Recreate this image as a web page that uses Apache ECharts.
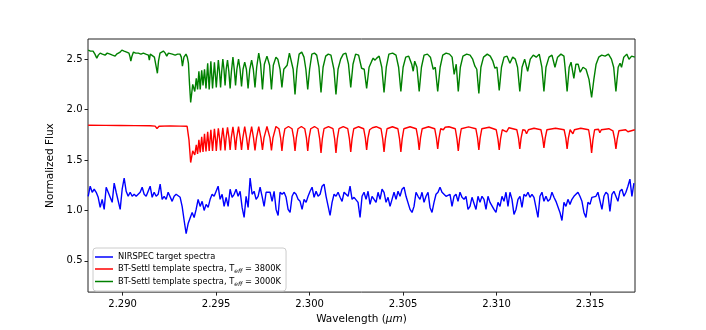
<!DOCTYPE html>
<html>
<head>
<meta charset="utf-8">
<script src="https://cdn.jsdelivr.net/npm/echarts@6.0.0/dist/echarts.min.js"></script>
<style>
  html, body { margin: 0; padding: 0; background: #fff; }
  #chart { width: 706px; height: 330px; }
</style>
</head>
<body>
<div id="chart"></div>
<script>
// axis ranges and ticks
const xMin = 2.28815
const xMax = 2.3174
const yMin = 0.19
const yMax = 2.70
const xTicks = [2.290, 2.295, 2.300, 2.305, 2.310, 2.315]
const yTicks = [0.5, 1.0, 1.5, 2.0, 2.5]

const seriesNames = [
  'NIRSPEC target spectra',
  'BT-Settl template spectra, T_eff = 3800K',
  'BT-Settl template spectra, T_eff = 3000K',
]

// NIRSPEC spectrum, sampled on a regular wavelength grid
const blueStart = 2.28816
const blueStep = 0.000106894
const blueFlux = [
  1.14, 1.24, 1.18, 1.21, 1.18, 1.13, 1.03, 1.11, 1.01, 1.23, 1.18, 1.18, 1.08, 1.27, 1.18, 1.17, 1.01, 1.21, 1.32, 1.19, 1.14, 1.18,
  1.14, 1.16, 1.14, 1.14, 1.18, 1.23, 1.16, 1.14, 1.19, 1.24, 1.13, 1.18, 1.14, 1.16, 1.26, 1.11, 1.14, 1.11, 1.18, 1.18, 1.09, 1.14, 1.16, 1.16,
  1.13, 1.04, 0.90, 0.77, 0.87, 0.88, 0.98, 0.93, 1.01, 1.11, 1.04, 1.09, 1.00, 1.06, 1.03, 1.11, 1.16, 1.14, 1.19, 1.24, 1.11, 1.16, 1.04, 1.13,
  1.04, 1.21, 1.13, 1.16, 1.21, 1.14, 1.19, 1.03, 0.93, 1.14, 1.03, 1.32, 1.16, 1.19, 1.11, 1.14, 1.23, 1.14, 1.04, 1.18, 1.19, 1.18, 1.09, 1.19,
  1.01, 0.95, 1.18, 1.16, 1.18, 1.13, 1.01, 0.98, 1.14, 1.18, 1.16, 1.11, 1.09, 1.01, 1.11, 1.08, 1.14, 1.19, 1.23, 1.13, 1.19, 1.14, 1.16, 1.24,
  1.26, 1.14, 1.13, 0.95, 1.08, 1.16, 1.14, 1.18, 1.13, 1.09, 1.18, 1.19, 1.14, 1.24, 1.11, 1.13, 1.14, 1.08, 0.93, 1.14, 1.18, 1.11, 1.19, 1.06,
  1.14, 1.11, 1.08, 1.18, 1.11, 1.21, 1.18, 1.08, 1.13, 1.04, 1.11, 1.18, 1.11, 1.19, 1.14, 1.21, 1.23, 1.14, 1.13, 1.01, 0.98, 1.04, 1.18, 1.14,
  1.11, 1.18, 1.08, 1.14, 1.18, 1.03, 0.98, 1.08, 1.16, 1.18, 1.23, 1.18, 1.19, 1.14, 1.13, 1.16, 1.04, 1.14, 1.16, 1.09, 1.18, 1.13, 1.11, 1.14,
  1.01, 1.04, 1.13, 1.14, 1.01, 1.14, 1.08, 1.14, 1.11, 1.01, 1.14, 1.08, 1.09, 1.01, 0.98, 1.08, 1.04, 1.14, 1.09, 1.18, 1.04, 1.18, 1.11, 0.96,
  1.01, 1.11, 1.14, 1.03, 1.16, 1.14, 1.18, 1.13, 1.16, 1.13, 1.13, 0.93, 1.14, 1.18, 1.09, 1.14, 1.09, 1.11, 1.18, 1.13, 1.09, 1.08, 0.98, 0.90,
  1.08, 1.04, 1.11, 1.06, 1.11, 1.14, 1.13, 1.18, 1.14, 1.09, 0.98, 0.93, 1.08, 1.06, 1.13, 1.13, 1.14, 1.18, 1.19, 1.01, 1.14, 1.18, 1.16, 0.99,
  1.16, 1.19, 1.18, 1.09, 1.19, 1.21, 1.14, 1.18, 1.24, 1.31, 1.14, 1.27,
]

// Teff = 3800K template, [wavelength, flux]
const redSpec = [
  [2.28816, 1.845], [2.28906, 1.843], [2.28987, 1.842], [2.29067, 1.841], [2.29147, 1.839], [2.29174, 1.836], [2.29184, 1.812], [2.29195, 1.835],
  [2.29254, 1.838], [2.29307, 1.836], [2.29345, 1.834], [2.29355, 1.70],
  [2.29364, 1.475], [2.29375, 1.59], [2.29386, 1.55], [2.29394, 1.65], [2.29401, 1.56], [2.29408, 1.70], [2.29415, 1.575], [2.29423, 1.73],
  [2.29430, 1.58], [2.29438, 1.76], [2.29446, 1.585], [2.29455, 1.78], [2.29463, 1.59], [2.29472, 1.80], [2.29481, 1.59], [2.29491, 1.81],
  [2.29497, 1.70], [2.29501, 1.59], [2.29506, 1.70], [2.29512, 1.815],
  [2.29519, 1.71], [2.29524, 1.595], [2.29529, 1.71], [2.29536, 1.82],
  [2.29543, 1.71], [2.29548, 1.595], [2.29553, 1.71], [2.29561, 1.825],
  [2.29569, 1.72], [2.29575, 1.60], [2.29581, 1.72], [2.29590, 1.828],
  [2.29598, 1.72], [2.29604, 1.60], [2.29610, 1.72], [2.29620, 1.83],
  [2.29629, 1.72], [2.29636, 1.60], [2.29643, 1.72], [2.29653, 1.83],
  [2.29663, 1.72], [2.29671, 1.60], [2.29679, 1.72], [2.29690, 1.83],
  [2.29700, 1.72], [2.29708, 1.595], [2.29716, 1.72], [2.29728, 1.832],
  [2.29740, 1.72], [2.29748, 1.60], [2.29756, 1.72], [2.29772, 1.832],
  [2.29788, 1.72], [2.29796, 1.595], [2.29804, 1.72], [2.29820, 1.832],
  [2.29836, 1.81], [2.29845, 1.72], [2.29852, 1.59], [2.29859, 1.72], [2.29868, 1.81], [2.29887, 1.832],
  [2.29906, 1.81], [2.29915, 1.72], [2.29922, 1.59], [2.29929, 1.72], [2.29938, 1.81], [2.29956, 1.832],
  [2.29974, 1.81], [2.29983, 1.72], [2.29990, 1.59], [2.29997, 1.72], [2.30006, 1.81], [2.30026, 1.832],
  [2.30045, 1.81], [2.30054, 1.71], [2.30061, 1.57], [2.30068, 1.71], [2.30077, 1.81], [2.30101, 1.832],
  [2.30125, 1.81], [2.30134, 1.71], [2.30141, 1.57], [2.30148, 1.71], [2.30157, 1.81], [2.30180, 1.832],
  [2.30204, 1.81], [2.30213, 1.71], [2.30220, 1.58], [2.30227, 1.71], [2.30236, 1.81], [2.30262, 1.83],
  [2.30289, 1.81], [2.30298, 1.72], [2.30305, 1.60], [2.30312, 1.72], [2.30321, 1.80], [2.30336, 1.82], [2.30346, 1.81], [2.30356, 1.83],
  [2.30382, 1.81], [2.30391, 1.71], [2.30398, 1.58], [2.30405, 1.71], [2.30414, 1.81], [2.30443, 1.83],
  [2.30472, 1.81], [2.30481, 1.71], [2.30488, 1.58], [2.30495, 1.71], [2.30504, 1.81], [2.30537, 1.83],
  [2.30570, 1.81], [2.30579, 1.72], [2.30586, 1.60], [2.30593, 1.72], [2.30602, 1.81], [2.30636, 1.83],
  [2.30669, 1.81], [2.30678, 1.72], [2.30685, 1.61], [2.30692, 1.72], [2.30701, 1.81], [2.30715, 1.80], [2.30725, 1.825], [2.30745, 1.83],
  [2.30779, 1.81], [2.30788, 1.71], [2.30795, 1.59], [2.30802, 1.71], [2.30811, 1.81], [2.30850, 1.828],
  [2.30889, 1.81], [2.30898, 1.72], [2.30905, 1.60], [2.30912, 1.72], [2.30921, 1.81], [2.30960, 1.825],
  [2.30998, 1.80], [2.31007, 1.71], [2.31014, 1.60], [2.31021, 1.71], [2.31030, 1.80], [2.31053, 1.78], [2.31066, 1.82],
  [2.31108, 1.80], [2.31117, 1.72], [2.31124, 1.61], [2.31131, 1.72], [2.31140, 1.80], [2.31152, 1.795], [2.31160, 1.76], [2.31170, 1.80], [2.31200, 1.815],
  [2.31237, 1.80], [2.31246, 1.72], [2.31253, 1.62], [2.31260, 1.72], [2.31269, 1.80], [2.31315, 1.815],
  [2.31361, 1.80], [2.31370, 1.72], [2.31377, 1.61], [2.31384, 1.72], [2.31393, 1.80], [2.31402, 1.79], [2.31408, 1.76], [2.31416, 1.80], [2.31450, 1.815],
  [2.31492, 1.80], [2.31501, 1.70], [2.31508, 1.57], [2.31515, 1.70], [2.31524, 1.80], [2.31545, 1.805], [2.31552, 1.77], [2.31560, 1.80], [2.31600, 1.81],
  [2.31622, 1.79], [2.31631, 1.71], [2.31638, 1.61], [2.31645, 1.71], [2.31654, 1.79], [2.31690, 1.80], [2.31702, 1.78], [2.31712, 1.795], [2.31739, 1.80],
]

// Teff = 3000K template, [wavelength, flux]
const greenSpec = [
  [2.28816, 2.59], [2.28828, 2.58], [2.28842, 2.58], [2.28852, 2.55], [2.28862, 2.51], [2.28870, 2.54], [2.28880, 2.56], [2.28892, 2.55],
  [2.28906, 2.54], [2.28918, 2.56], [2.28933, 2.55], [2.28946, 2.54], [2.28960, 2.53], [2.28968, 2.55], [2.28978, 2.56], [2.28987, 2.57],
  [2.28996, 2.59], [2.29008, 2.58], [2.29022, 2.57], [2.29034, 2.56], [2.29040, 2.52], [2.29044, 2.48], [2.29050, 2.53], [2.29058, 2.57],
  [2.29070, 2.56], [2.29084, 2.56], [2.29098, 2.55], [2.29111, 2.56], [2.29124, 2.55], [2.29138, 2.54], [2.29143, 2.49], [2.29148, 2.55],
  [2.29156, 2.56], [2.29170, 2.52], [2.29180, 2.42], [2.29186, 2.36], [2.29192, 2.48], [2.29200, 2.56], [2.29210, 2.57], [2.29218, 2.58],
  [2.29228, 2.56], [2.29236, 2.53], [2.29245, 2.56], [2.29254, 2.57], [2.29266, 2.55], [2.29281, 2.54], [2.29294, 2.55], [2.29307, 2.55],
  [2.29314, 2.52], [2.29320, 2.43], [2.29328, 2.52], [2.29339, 2.55], [2.29346, 2.52], [2.29352, 2.46], [2.29358, 2.25],
  [2.29364, 2.07], [2.29375, 2.25], [2.29386, 2.18], [2.29394, 2.31], [2.29401, 2.20], [2.29408, 2.38], [2.29415, 2.20], [2.29423, 2.39],
  [2.29430, 2.24], [2.29438, 2.40], [2.29446, 2.21], [2.29455, 2.46], [2.29463, 2.20], [2.29472, 2.48], [2.29481, 2.21], [2.29491, 2.47],
  [2.29501, 2.22], [2.29512, 2.49], [2.29518, 2.38], [2.29524, 2.22], [2.29530, 2.38], [2.29536, 2.50], [2.29542, 2.40], [2.29548, 2.24],
  [2.29554, 2.40], [2.29561, 2.49], [2.29568, 2.38], [2.29575, 2.21], [2.29582, 2.38], [2.29590, 2.52], [2.29597, 2.40], [2.29604, 2.24],
  [2.29611, 2.40], [2.29620, 2.50], [2.29628, 2.40], [2.29636, 2.23], [2.29644, 2.40], [2.29653, 2.47], [2.29662, 2.40], [2.29671, 2.21],
  [2.29680, 2.40], [2.29690, 2.49], [2.29699, 2.40], [2.29708, 2.22], [2.29717, 2.42], [2.29728, 2.56], [2.29738, 2.45], [2.29748, 2.20],
  [2.29758, 2.45], [2.29772, 2.53], [2.29786, 2.44], [2.29796, 2.20], [2.29806, 2.44], [2.29820, 2.52], [2.29830, 2.50], [2.29842, 2.40],
  [2.29852, 2.22], [2.29862, 2.40], [2.29880, 2.44], [2.29892, 2.56], [2.29900, 2.55], [2.29912, 2.40], [2.29922, 2.15], [2.29932, 2.40],
  [2.29944, 2.55], [2.29958, 2.57], [2.29970, 2.52], [2.29980, 2.40], [2.29990, 2.20], [2.30000, 2.40], [2.30012, 2.55], [2.30026, 2.56],
  [2.30038, 2.54], [2.30050, 2.42], [2.30061, 2.17], [2.30072, 2.42], [2.30086, 2.53], [2.30100, 2.55], [2.30114, 2.54], [2.30130, 2.40],
  [2.30141, 2.15], [2.30152, 2.40], [2.30166, 2.50], [2.30180, 2.55], [2.30194, 2.56], [2.30208, 2.45], [2.30220, 2.22], [2.30232, 2.45],
  [2.30246, 2.55], [2.30262, 2.54], [2.30278, 2.41], [2.30292, 2.40], [2.30305, 2.21], [2.30318, 2.42], [2.30332, 2.48], [2.30340, 2.51],
  [2.30350, 2.49], [2.30359, 2.51], [2.30372, 2.53], [2.30386, 2.42], [2.30398, 2.17], [2.30410, 2.42], [2.30424, 2.55], [2.30444, 2.56],
  [2.30462, 2.54], [2.30476, 2.42], [2.30488, 2.18], [2.30500, 2.42], [2.30514, 2.52], [2.30530, 2.53], [2.30546, 2.45], [2.30554, 2.38],
  [2.30562, 2.48], [2.30574, 2.42], [2.30586, 2.18], [2.30598, 2.42], [2.30612, 2.54], [2.30630, 2.55], [2.30646, 2.52], [2.30661, 2.40],
  [2.30672, 2.42], [2.30685, 2.18], [2.30698, 2.42], [2.30712, 2.54], [2.30730, 2.56], [2.30748, 2.55], [2.30762, 2.52], [2.30773, 2.35],
  [2.30784, 2.45], [2.30795, 2.18], [2.30806, 2.42], [2.30820, 2.53], [2.30840, 2.55], [2.30858, 2.54], [2.30872, 2.50], [2.30884, 2.43],
  [2.30894, 2.40], [2.30905, 2.16], [2.30916, 2.42], [2.30930, 2.52], [2.30950, 2.55], [2.30966, 2.53], [2.30980, 2.48], [2.30991, 2.41],
  [2.31002, 2.42], [2.31014, 2.19], [2.31026, 2.42], [2.31040, 2.52], [2.31056, 2.53], [2.31071, 2.46], [2.31086, 2.52], [2.31100, 2.50],
  [2.31112, 2.42], [2.31124, 2.18], [2.31136, 2.42], [2.31150, 2.50], [2.31166, 2.38], [2.31180, 2.50], [2.31196, 2.54], [2.31212, 2.52],
  [2.31228, 2.55], [2.31242, 2.42], [2.31253, 2.18], [2.31264, 2.42], [2.31280, 2.52], [2.31296, 2.54], [2.31312, 2.42], [2.31326, 2.52],
  [2.31344, 2.55], [2.31360, 2.53], [2.31366, 2.42], [2.31377, 2.18], [2.31388, 2.42], [2.31398, 2.47], [2.31413, 2.31], [2.31424, 2.45],
  [2.31436, 2.45], [2.31447, 2.37], [2.31462, 2.42], [2.31478, 2.40], [2.31494, 2.30], [2.31508, 2.12], [2.31520, 2.30], [2.31532, 2.45],
  [2.31546, 2.52], [2.31562, 2.54], [2.31580, 2.53], [2.31598, 2.55], [2.31614, 2.50], [2.31626, 2.42], [2.31638, 2.18], [2.31650, 2.42],
  [2.31660, 2.46], [2.31668, 2.42], [2.31680, 2.52], [2.31696, 2.55], [2.31708, 2.50], [2.31722, 2.53], [2.31739, 2.52],
]

const blueSpec = blueFlux.map((f, i) => [blueStart + i * blueStep, f])

const font = 'DejaVu Sans'
const chart = echarts.init(document.getElementById('chart'))

function lineSeries(name, data, color) {
  return {
    name: name,
    type: 'line',
    data: data,
    symbol: 'none',
    sampling: 'none',
    clip: true,
    lineStyle: { color: color, width: 1.4 },
    itemStyle: { color: color },
  }
}

const option = {
  animation: false,
  textStyle: { fontFamily: font },
  grid: {
    left: 88,
    right: 71,
    top: 39,
    bottom: 37,
    show: true,
    borderColor: '#222',
    borderWidth: 1,
  },
  legend: {
    orient: 'vertical',
    left: 93,
    top: 248,
    padding: [4, 5, 4, 2],
    itemGap: 1.5,
    itemWidth: 18,
    itemHeight: 1.5,
    icon: 'rect',
    borderColor: '#ccc',
    borderWidth: 1,
    borderRadius: 3,
    backgroundColor: 'rgba(255,255,255,0.8)',
    data: seriesNames,
    formatter: name => name.replace('T_eff', 'T{sub|eff}'),
    textStyle: {
      fontFamily: font,
      fontSize: 8.3,
      lineHeight: 10,
      color: '#000',
      rich: {
        sub: { fontFamily: font, fontSize: 6, fontStyle: 'italic', lineHeight: 10, padding: [5, 0, 0, 0], color: '#000' },
      },
    },
  },
  xAxis: {
    type: 'value',
    min: xMin,
    max: xMax,
    axisLine: { show: false },
    axisTick: { show: true, length: 3.5, customValues: xTicks, lineStyle: { color: '#222', width: 1 } },
    axisLabel: { customValues: xTicks, formatter: v => v.toFixed(3), color: '#000', fontSize: 10, margin: 7 },
    splitLine: { show: false },
    name: 'Wavelength ({it|μm})',
    nameLocation: 'middle',
    nameGap: 19,
    nameTextStyle: {
      fontFamily: font,
      fontSize: 10.5,
      color: '#000',
      rich: { it: { fontFamily: font, fontSize: 10.5, fontStyle: 'italic', color: '#000' } },
    },
  },
  yAxis: {
    type: 'value',
    min: yMin,
    max: yMax,
    axisLine: { show: false },
    axisTick: { show: true, length: 3.5, customValues: yTicks, lineStyle: { color: '#222', width: 1 } },
    axisLabel: { customValues: yTicks, formatter: v => v.toFixed(1), color: '#000', fontSize: 10, margin: 5.5 },
    splitLine: { show: false },
    name: 'Normalized Flux',
    nameLocation: 'middle',
    nameRotate: 90,
    nameGap: 23,
    nameTextStyle: { fontFamily: font, fontSize: 10.5, color: '#000' },
  },
  series: [
    lineSeries(seriesNames[0], blueSpec, '#0000ff'),
    lineSeries(seriesNames[1], redSpec, '#ff0000'),
    lineSeries(seriesNames[2], greenSpec, '#008000'),
  ],
}

chart.setOption(option)
</script>
</body>
</html>
